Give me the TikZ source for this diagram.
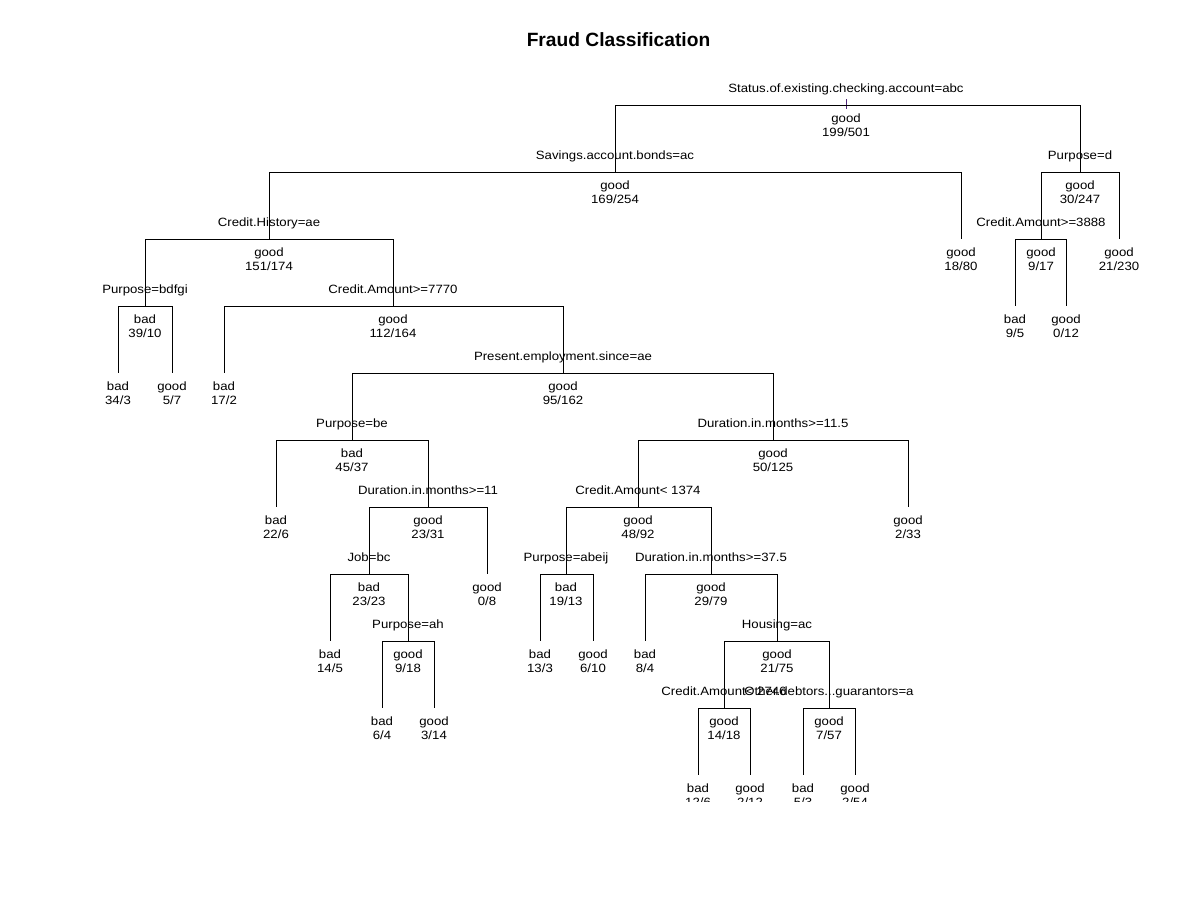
\documentclass[tikz,border=0pt]{standalone}
\usepackage{fontspec}
\setmainfont{Liberation Sans}
\newfontfamily\labfont[FakeStretch=1.1]{Liberation Sans}
\definecolor{tickcol}{RGB}{80,40,120}
\newcommand{\splitnode}[6]{%
  \coordinate (#1) at (#2,#3);
  \node[txt] (#1-lab) at (#2,#3-12.7) {#4};
  \node[txt] (#1-cls) at (#2,#3+17.3) {#5};
  \node[txt] (#1-cnt) at (#2,#3+31.3) {#6};
}
\newcommand{\leafnode}[5]{%
  \coordinate (#1) at (#2,#3);
  \node[txt] (#1-cls) at (#2,#3+17.3) {#4};
  \node[txt] (#1-cnt) at (#2,#3+31.3) {#5};
}
\begin{document}
\begin{tikzpicture}[x=1pt,y=-1pt,
  txt/.style={inner sep=0pt, anchor=base, font=\labfont\fontsize{12}{14}\selectfont},
  edge/.style={line width=1pt, black},
  tickline/.style={line width=1pt, tickcol}]
\useasboundingbox (0,0) rectangle (1200,900);
\node[inner sep=0pt, anchor=base, font=\fontsize{19.2}{23}\selectfont\bfseries] (title) at (618.5,46.9) {Fraud Classification};
\begin{scope}
\clip (0,0) rectangle (1200,801);
% levels: 105,172,239,306,373,440,507,574,641,708,775
\splitnode{root}{846}{105}{Status.of.existing.checking.account=abc}{good}{199/501}
\splitnode{a}{615}{172}{Savings.account.bonds=ac}{good}{169/254}
\splitnode{b}{1080}{172}{Purpose=d}{good}{30/247}
\splitnode{aa}{269}{239}{Credit.History=ae}{good}{151/174}
\leafnode{ab}{961}{239}{good}{18/80}
\splitnode{ba}{1041}{239}{Credit.Amount>=3888}{good}{9/17}
\leafnode{bb}{1119}{239}{good}{21/230}
\leafnode{baa}{1015}{306}{bad}{9/5}
\leafnode{bab}{1066}{306}{good}{0/12}
\splitnode{aaa}{145}{306}{Purpose=bdfgi}{bad}{39/10}
\splitnode{aab}{393}{306}{Credit.Amount>=7770}{good}{112/164}
\leafnode{aaaa}{118}{373}{bad}{34/3}
\leafnode{aaab}{172}{373}{good}{5/7}
\leafnode{aaba}{224}{373}{bad}{17/2}
\splitnode{aabb}{563}{373}{Present.employment.since=ae}{good}{95/162}
\splitnode{c1}{352}{440}{Purpose=be}{bad}{45/37}
\splitnode{c2}{773}{440}{Duration.in.months>=11.5}{good}{50/125}
\leafnode{c1a}{276}{507}{bad}{22/6}
\splitnode{c1b}{428}{507}{Duration.in.months>=11}{good}{23/31}
\splitnode{c2a}{638}{507}{Credit.Amount< 1374}{good}{48/92}
\leafnode{c2b}{908}{507}{good}{2/33}
\splitnode{c1ba}{369}{574}{Job=bc}{bad}{23/23}
\leafnode{c1bb}{487}{574}{good}{0/8}
\splitnode{c2aa}{566}{574}{Purpose=abeij}{bad}{19/13}
\splitnode{c2ab}{711}{574}{Duration.in.months>=37.5}{good}{29/79}
\leafnode{c1baa}{330}{641}{bad}{14/5}
\splitnode{c1bab}{408}{641}{Purpose=ah}{good}{9/18}
\leafnode{c2aaa}{540}{641}{bad}{13/3}
\leafnode{c2aab}{593}{641}{good}{6/10}
\leafnode{c2aba}{645}{641}{bad}{8/4}
\splitnode{c2abb}{777}{641}{Housing=ac}{good}{21/75}
\leafnode{c1baba}{382}{708}{bad}{6/4}
\leafnode{c1babb}{434}{708}{good}{3/14}
\splitnode{d1}{724}{708}{Credit.Amount< 2746}{good}{14/18}
\splitnode{d2}{829}{708}{Other.debtors...guarantors=a}{good}{7/57}
\leafnode{d1a}{698}{775}{bad}{12/6}
\leafnode{d1b}{750}{775}{good}{2/12}
\leafnode{d2a}{803}{775}{bad}{5/3}
\leafnode{d2b}{855}{775}{good}{2/54}
% edges
\draw[tickline] (root) ++(0,-6) -- ++(0,10);
\foreach \p/\c in {root/a, root/b, a/aa, a/ab, b/ba, b/bb, ba/baa, ba/bab,
  aa/aaa, aa/aab, aaa/aaaa, aaa/aaab, aab/aaba, aab/aabb, aabb/c1, aabb/c2,
  c1/c1a, c1/c1b, c2/c2a, c2/c2b, c1b/c1ba, c1b/c1bb, c2a/c2aa, c2a/c2ab,
  c1ba/c1baa, c1ba/c1bab, c2aa/c2aaa, c2aa/c2aab, c2ab/c2aba, c2ab/c2abb,
  c1bab/c1baba, c1bab/c1babb, c2abb/d1, c2abb/d2, d1/d1a, d1/d1b, d2/d2a, d2/d2b}
  {\draw[edge] (\p) -| (\c);}
\end{scope}
\end{tikzpicture}
\end{document}
